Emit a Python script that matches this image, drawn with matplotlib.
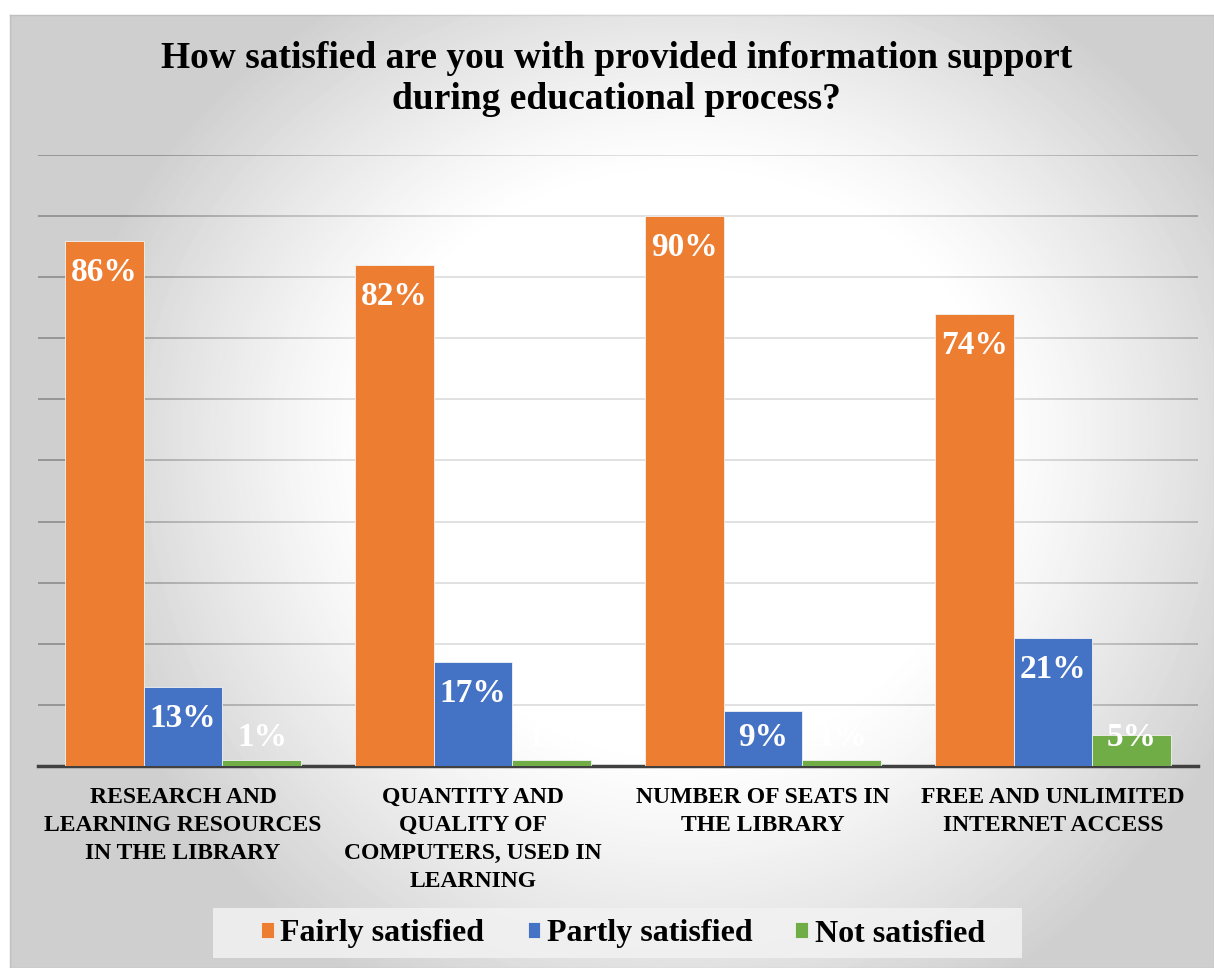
import matplotlib
matplotlib.use("Agg")
import matplotlib.pyplot as plt
from matplotlib.patches import Rectangle
import numpy as np

categories = ["RESEARCH AND\nLEARNING RESOURCES\nIN THE LIBRARY",
              "QUANTITY AND\nQUALITY OF\nCOMPUTERS, USED IN\nLEARNING",
              "NUMBER OF SEATS IN\nTHE LIBRARY",
              "FREE AND UNLIMITED\nINTERNET ACCESS"]
series = ["Fairly satisfied", "Partly satisfied", "Not satisfied"]
fairly = [86, 82, 90, 74]
partly = [13, 17, 9, 21]
not_sat = [1, 1, 1, 5]
colors = ["#ED7D31", "#4472C4", "#70AD47"]

plt.rcParams["font.family"] = ["Liberation Serif", "DejaVu Serif"]
plt.rcParams["font.weight"] = "bold"

W, H = 1214, 968
fig = plt.figure(figsize=(W / 100, H / 100), dpi=100)

# radial highlight over a grey frame
x0, y0 = 10, 15
py, px = np.mgrid[y0:H:4, x0:W:4].astype(float)
cx, cy = 680, 430
dx = (px - cx) / 620
dy = np.where(py < cy, (py - cy) / 520, (py - cy) / 650)
d = np.sqrt(dx ** 2 + dy ** 2)
s = np.clip((d - 0.5) / 0.5, 0, 1) ** 1.2
final = 1 - 0.19 * s
glow = 0.7 * (1 - s)
base = (final - glow) / (1 - glow)

frame_rect = [x0 / W, 0, 1 - x0 / W, 1 - y0 / H]
plot_rect = [38 / W, (H - 766) / H, 1160 / W, 611 / H]

bg = fig.add_axes(frame_rect, zorder=0)
bg.imshow(base, cmap="gray", vmin=0, vmax=1, aspect="auto", interpolation="bilinear")
bg.set_xticks([])
bg.set_yticks([])
for sp in bg.spines.values():
    sp.set_color("#bfbfbf")
    sp.set_linewidth(1)

gax = fig.add_axes(plot_rect, zorder=1)
gax.patch.set_alpha(0)
gax.set_ylim(0, 100)
gax.set_yticks(np.arange(10, 101, 10))
gax.grid(axis="y", color="#8c8c8c", linewidth=1.2)
gax.set_xticks([])
gax.tick_params(axis="y", length=0, labelleft=False)
for sp in gax.spines.values():
    sp.set_visible(False)

ov = fig.add_axes(frame_rect, zorder=2)
white = np.ones(glow.shape + (4,))
white[..., 3] = glow
ov.imshow(white, aspect="auto", interpolation="bilinear")
ov.axis("off")

ax = fig.add_axes(plot_rect, zorder=3)
ax.patch.set_alpha(0)
x = np.arange(len(categories))
bw = 0.272
for i, (vals, c) in enumerate(zip([fairly, partly, not_sat], colors)):
    pos = x + (i - 1) * bw
    ax.bar(pos, vals, bw, color=c, edgecolor="#f2f2f2", linewidth=0.6,
           label=series[i], zorder=3)
    for p, v in zip(pos, vals):
        ax.text(p, max(v - 5.2, 4.6), f"{v}%", ha="center", va="center",
                color="white", fontsize=24, fontweight="bold", zorder=4)

ax.set_xlim(-0.5, 3.5)
ax.set_ylim(0, 100)
ax.set_yticks([])
ax.tick_params(axis="x", length=0, pad=15)
ax.set_xticks(x)
ax.set_xticklabels(categories, fontsize=17, fontweight="bold", linespacing=1.45, va="top")
for sp in ["top", "right", "left"]:
    ax.spines[sp].set_visible(False)
ax.spines["bottom"].set_color("#404040")
ax.spines["bottom"].set_linewidth(2.5)

fig.text(0.508, 1 - 79 / H, "How satisfied are you with provided information support\nduring educational process?",
         ha="center", va="center", fontsize=27, fontweight="bold", linespacing=1.25,
         zorder=5)

# legend strip
fig.patches.append(Rectangle((213 / W, 1 - 958 / H), 809 / W, 50 / H,
                             transform=fig.transFigure, facecolor="#f2f2f2",
                             edgecolor="none", alpha=0.85, zorder=4))
leg = fig.legend(loc="center", bbox_to_anchor=(623 / W, 1 - 934 / H), ncol=3,
                 fontsize=23, frameon=False, handlelength=0.4,
                 handleheight=0.4, handletextpad=0.2, columnspacing=1.35,
                 borderpad=0.2)
leg.set_zorder(6)
for t in leg.get_texts():
    t.set_fontweight("bold")

fig.savefig("out.png", dpi=100)
